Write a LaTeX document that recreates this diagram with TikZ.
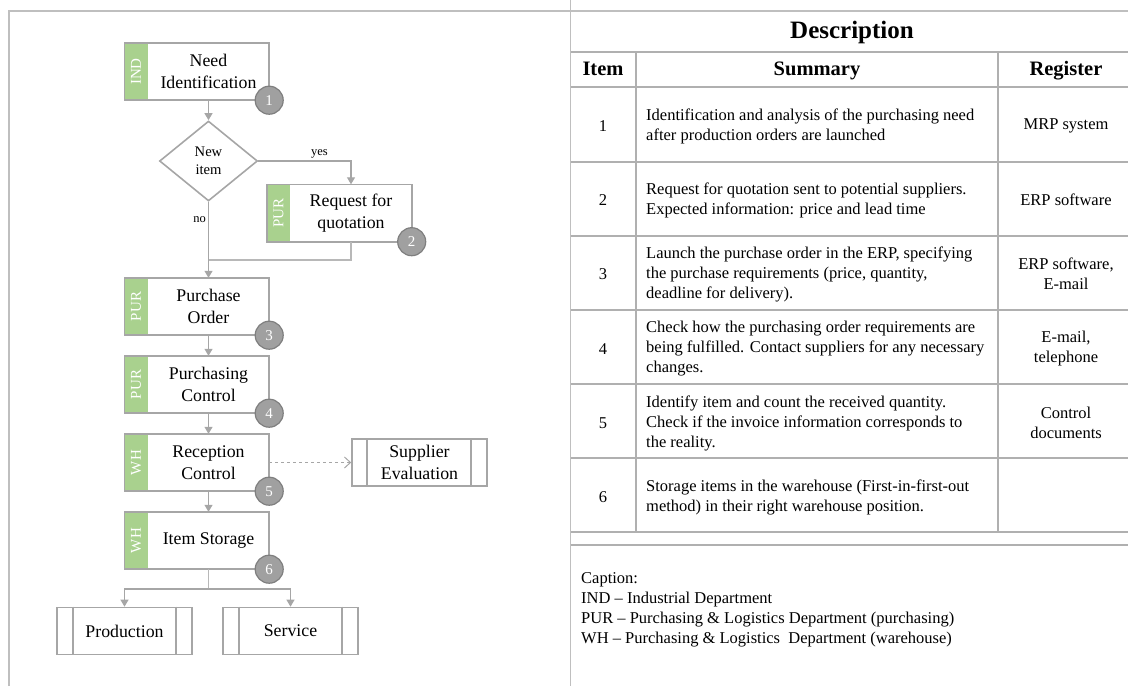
\documentclass[tikz,border=0pt]{standalone}
\usepackage{fontspec}
\setmainfont{Liberation Serif}
\usetikzlibrary{shapes.geometric,arrows.meta}
\definecolor{boxgray}{HTML}{A6A6A6}
\definecolor{linegray}{HTML}{A6A6A6}
\definecolor{framegray}{HTML}{BFBFBF}
\definecolor{tabgray}{HTML}{B0B0B0}
\definecolor{stripgreen}{HTML}{A9D18E}
\definecolor{circfill}{HTML}{A0A0A0}
\definecolor{circdraw}{HTML}{7F7F7F}
\newcommand\flowfnt{\fontsize{17.8}{21.5}\selectfont}
\newcommand\decfnt{\fontsize{14.6}{18}\selectfont}
\newcommand\yesfnt{\fontsize{12.5}{14}\selectfont}
\newcommand\numfnt{\fontsize{15}{16}\selectfont}
\newcommand\sidefnt{\fontsize{15}{16}\selectfont}
\newcommand\tabfnt{\fontsize{16.5}{20}\selectfont}
\newcommand\headfnt{\fontsize{20.5}{24}\selectfont\bfseries}
\newcommand\titlefnt{\fontsize{25}{28}\selectfont\bfseries}
\tikzset{
  proc/.style={minimum width=121pt, minimum height=57pt, inner sep=0pt, align=center, font=\flowfnt},
  stripn/.style={fill=stripgreen, minimum width=23pt, minimum height=57pt, inner sep=0pt, anchor=north east, text=white, font=\sidefnt},
  boxline/.style={draw=boxgray, line width=1.6pt},
  numc/.style={circle, fill=circfill, draw=circdraw, line width=1.2pt, minimum size=28pt, inner sep=0pt, text=white, font=\numfnt},
  arr/.style={draw=linegray, line width=1.2pt, -{Triangle[width=8pt,length=7pt]}},
  conn/.style={draw=linegray!80, line width=1.2pt},
  dasharr/.style={draw=linegray, line width=1pt, dashed, -{Straight Barb[width=11pt,length=6pt]}},
  decis/.style={diamond, draw=boxgray, line width=1.6pt, minimum width=98pt, minimum height=80pt, inner sep=0pt, align=center, font=\decfnt},
  ppbox/.style={draw=boxgray, line width=1.6pt, minimum width=135pt, minimum height=47pt, inner sep=0pt, align=center, font=\flowfnt},
  tline/.style={draw=tabgray, line width=1.8pt},
  fline/.style={draw=framegray, line width=1.5pt},
  lbl/.style={font=\yesfnt, inner sep=2pt},
  cell/.style={font=\tabfnt, inner sep=0pt, align=center},
  sumcell/.style={font=\tabfnt, inner sep=0pt, align=left, anchor=west},
  head/.style={font=\headfnt, inner sep=0pt, text height=14pt, text depth=4.5pt},
}
\begin{document}
\begin{tikzpicture}[x=1pt,y=-1pt]
\useasboundingbox (0,0) rectangle (1128,686);
% frame
\draw[fline] (9,686) -- (9,11) -- (1128,11);
\draw[fline] (570.5,0) -- (570.5,686);
% ---------- flowchart ----------
\node[proc] (n1) at (208.5,71.5) {Need\\Identification};
\node[stripn] (s1) at (n1.north west) {\rotatebox{90}{IND}};
\draw[boxline] (s1.north west) rectangle (n1.south east);

\node[decis] (dia) at (208.5,161) {New\\item};

\node[proc] (n2) at (351,213) {Request for\\quotation};
\node[stripn] (s2) at (n2.north west) {\rotatebox{90}{PUR}};
\draw[boxline] (s2.north west) rectangle (n2.south east);

\node[proc] (n3) at (208.5,306.5) {Purchase\\Order};
\node[stripn] (s3) at (n3.north west) {\rotatebox{90}{PUR}};
\draw[boxline] (s3.north west) rectangle (n3.south east);

\node[proc] (n4) at (208.5,384.5) {Purchasing\\Control};
\node[stripn] (s4) at (n4.north west) {\rotatebox{90}{PUR}};
\draw[boxline] (s4.north west) rectangle (n4.south east);

\node[proc] (n5) at (208.5,462.5) {Reception\\Control};
\node[stripn] (s5) at (n5.north west) {\rotatebox{90}{WH}};
\draw[boxline] (s5.north west) rectangle (n5.south east);

\node[proc] (n6) at (208.5,540.5) {Item Storage};
\node[stripn] (s6) at (n6.north west) {\rotatebox{90}{WH}};
\draw[boxline] (s6.north west) rectangle (n6.south east);

\node[ppbox] (sup) at (419.5,462.5) {Supplier\\Evaluation};
\draw[boxline] ([xshift=16pt]sup.north west) -- ([xshift=16pt]sup.south west);
\draw[boxline] ([xshift=-17pt]sup.north east) -- ([xshift=-17pt]sup.south east);

\node[ppbox] (prod) at (124.5,631) {Production};
\draw[boxline] ([xshift=17pt]prod.north west) -- ([xshift=17pt]prod.south west);
\draw[boxline] ([xshift=-17pt]prod.north east) -- ([xshift=-17pt]prod.south east);

\node[ppbox] (serv) at (290.5,631) {Service};
\draw[boxline] ([xshift=17pt]serv.north west) -- ([xshift=17pt]serv.south west);
\draw[boxline] ([xshift=-17pt]serv.north east) -- ([xshift=-17pt]serv.south east);

% connectors
\draw[arr] (n1.south) -- (dia.north);
\draw[arr] (dia.east) -| node[lbl, pos=0.33, above] {yes} (n2.north);
\draw[arr] (dia.south) -- node[lbl, pos=0.23, left] {no} (n3.north);
\coordinate (j) at (208.5,260);
\draw[conn] (n2.south) |- (j);
\draw[arr] (n3.south) -- (n4.north);
\draw[arr] (n4.south) -- (n5.north);
\draw[arr] (n5.south) -- (n6.north);
\draw[dasharr] (n5.east) -- (sup.west);
\coordinate (sp) at (208.5,589);
\draw[conn] (n6.south) -- (sp);
\draw[arr] (sp) -| (prod.north);
\draw[arr] (sp) -| (serv.north);

% numbers
\node[numc] (c1) at (n1.south east) {1};
\node[numc] (c2) at (n2.south east) {2};
\node[numc] (c3) at (n3.south east) {3};
\node[numc] (c4) at (n4.south east) {4};
\node[numc] (c5) at (n5.south east) {5};
\node[numc] (c6) at (n6.south east) {6};

% ---------- table ----------
\foreach \yy in {52,87,162,236,310,384,458,532,545}
  \draw[tline] (571,\yy) -- (1128,\yy);
\draw[tline] (636,52) -- (636,532);
\draw[tline] (998,52) -- (998,532);

\node[font=\titlefnt, inner sep=0pt, text height=17pt, text depth=5.5pt] (title) at (852,33) {Description};
\node[head] (hitem) at (603,70.5) {Item};
\node[head] (hsum) at (817,70.5) {Summary};
\node[head] (hreg) at (1066,70.5) {Register};

\node[cell] (i1) at (603,126) {1};
\node[sumcell] (t1) at (646,126) {Identification and analysis of the purchasing need\\after production orders are launched};
\node[cell] (g1) at (1066,126) {MRP system};

\node[cell] (i2) at (603,200) {2};
\node[sumcell] (t2) at (646,200) {Request for quotation sent to potential suppliers.\\Expected information: price and lead time};
\node[cell] (g2) at (1066,200) {ERP software};

\node[cell] (i3) at (603,274) {3};
\node[sumcell] (t3) at (646,274) {Launch the purchase order in the ERP, specifying\\the purchase requirements (price, quantity,\\deadline for delivery).};
\node[cell] (g3) at (1066,274) {ERP software,\\E-mail};

\node[cell] (i4) at (603,349) {4};
\node[sumcell] (t4) at (646,349) {Check how the purchasing order requirements are\\being fulfilled. Contact suppliers for any necessary\\changes.};
\node[cell] (g4) at (1066,349) {E-mail,\\telephone};

\node[cell] (i5) at (603,423) {5};
\node[sumcell] (t5) at (646,423) {Identify item and count the received quantity.\\Check if the invoice information corresponds to\\the reality.};
\node[cell] (g5) at (1066,423) {Control\\documents};

\node[cell] (i6) at (603,497) {6};
\node[sumcell] (t6) at (646,497) {Storage items in the warehouse (First-in-first-out\\method) in their right warehouse position.};

\node[sumcell] (cap) at (581,610) {Caption:\\IND -- Industrial Department\\PUR -- Purchasing \& Logistics Department (purchasing)\\WH -- Purchasing \& Logistics\ \ Department (warehouse)};
\end{tikzpicture}
\end{document}
